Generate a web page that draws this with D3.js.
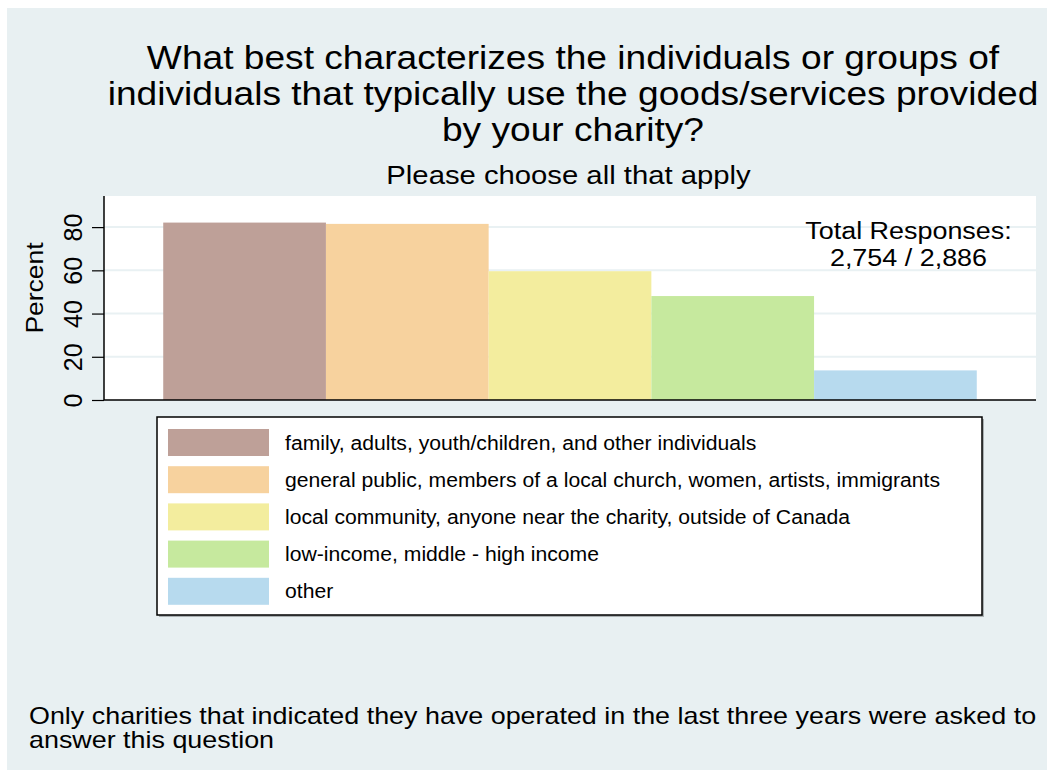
<!DOCTYPE html>
<html>
<head>
<meta charset="utf-8">
<script src="https://cdn.jsdelivr.net/npm/d3@7"></script>
<style>
  body { margin: 0; background: #fff; }
  svg text { font-family: "Liberation Sans", Arial, sans-serif; fill: #000; }
</style>
</head>
<body>
<svg id="mainsvg" width="1047" height="771"></svg>
<script>
// data
const categories = [
  'family, adults, youth/children, and other individuals',
  'general public, members of a local church, women, artists, immigrants',
  'local community, anyone near the charity, outside of Canada',
  'low-income, middle - high income',
  'other'
];
const percents = [82.1, 81.5, 59.6, 48.1, 13.7];
const colors = ['#bea098', '#f7d29e', '#f3ed9e', '#c6e99e', '#b7daee'];
const yTicks = [0, 20, 40, 60, 80];
const titleLines = [
  'What best characterizes the individuals or groups of',
  'individuals that typically use the goods/services provided',
  'by your charity?'
];
const subtitle = 'Please choose all that apply';
const totalLines = ['Total Responses:', '2,754 / 2,886'];
const noteLines = [
  'Only charities that indicated they have operated in the last three years were asked to',
  'answer this question'
];

const svg = d3.select('#mainsvg');
const plot = { left: 104, right: 1036, top: 196, bottom: 400 };

// the original font is a bit wider than Liberation Sans, stretch text to fit
const stretch = (sel, k) => sel.each(function () {
  const w = this.getComputedTextLength();
  d3.select(this)
    .attr('textLength', w * k)
    .attr('lengthAdjust', 'spacingAndGlyphs');
});

// background
svg.append('rect')
  .attr('x', 7).attr('y', 8)
  .attr('width', 1040).attr('height', 762)
  .attr('fill', '#e8f0f2');

svg.append('rect')
  .attr('x', plot.left).attr('y', plot.top)
  .attr('width', plot.right - plot.left).attr('height', plot.bottom - plot.top)
  .attr('fill', '#fff');

const xScale = d3.scaleBand()
  .domain(categories)
  .range([plot.left, plot.right])
  .paddingInner(0)
  .paddingOuter(0.364);

const yScale = d3.scaleLinear()
  .domain([0, 94.4])
  .range([plot.bottom, plot.top]);

// gridlines
svg.append('g').selectAll('line')
  .data(yTicks.filter(d => d > 0))
  .join('line')
  .attr('x1', plot.left).attr('x2', plot.right)
  .attr('y1', d => yScale(d)).attr('y2', d => yScale(d))
  .attr('stroke', '#e9f1f3')
  .attr('stroke-width', 2);

// bars
svg.append('g').selectAll('rect')
  .data(percents)
  .join('rect')
  .attr('x', (d, i) => xScale(categories[i]))
  .attr('y', d => yScale(d))
  .attr('width', xScale.bandwidth())
  .attr('height', d => yScale(0) - yScale(d))
  .attr('fill', (d, i) => colors[i]);

// y axis
const yAxis = d3.axisLeft(yScale)
  .tickValues(yTicks)
  .tickSize(12)
  .tickPadding(10);
const yg = svg.append('g')
  .attr('transform', `translate(${plot.left},0)`)
  .call(yAxis);
yg.select('.domain').attr('stroke', '#000').attr('stroke-width', 1.5)
  .attr('d', `M0,${plot.bottom}V${plot.top}`);
yg.selectAll('.tick line').attr('stroke', '#000').attr('stroke-width', 1.2);
yg.selectAll('.tick text')
  .attr('font-size', 25)
  .attr('font-family', '"Liberation Sans", Arial, sans-serif')
  .attr('x', null).attr('dy', null)
  .attr('text-anchor', 'middle')
  .attr('transform', 'translate(-22,0) rotate(-90)');

// x baseline
svg.append('line')
  .attr('x1', plot.left).attr('x2', plot.right)
  .attr('y1', plot.bottom).attr('y2', plot.bottom)
  .attr('stroke', '#000').attr('stroke-width', 1.5);

svg.append('text').text('Percent')
  .attr('transform', `translate(43, 288) rotate(-90)`)
  .attr('text-anchor', 'middle')
  .attr('font-size', 23)
  .call(stretch, 1.15);

// titles
svg.append('g').selectAll('text')
  .data(titleLines)
  .join('text')
  .text(d => d)
  .attr('x', 573)
  .attr('y', (d, i) => 69 + i * 36)
  .attr('text-anchor', 'middle')
  .attr('font-size', 33)
  .call(stretch, 1.125);

svg.append('text').text(subtitle)
  .attr('x', 568.5).attr('y', 184)
  .attr('text-anchor', 'middle')
  .attr('font-size', 25)
  .call(stretch, 1.17);

svg.append('g').selectAll('text')
  .data(totalLines)
  .join('text')
  .text(d => d)
  .attr('x', 908.5)
  .attr('y', (d, i) => 239 + i * 27)
  .attr('text-anchor', 'middle')
  .attr('font-size', 23)
  .call(stretch, 1.17);

// legend
const legend = { x: 157, y: 417, w: 825, h: 198 };
svg.append('rect')
  .attr('x', legend.x + 2).attr('y', legend.y + 2)
  .attr('width', legend.w).attr('height', legend.h)
  .attr('fill', '#aab0b2');
svg.append('rect')
  .attr('x', legend.x).attr('y', legend.y)
  .attr('width', legend.w).attr('height', legend.h)
  .attr('fill', '#fff').attr('stroke', '#000').attr('stroke-width', 1.5);

const rows = svg.append('g').selectAll('g')
  .data(categories)
  .join('g')
  .attr('transform', (d, i) => `translate(0, ${429 + i * 37.2})`);
rows.append('rect')
  .attr('x', 168).attr('y', 0)
  .attr('width', 101).attr('height', 27)
  .attr('fill', (d, i) => colors[i]);
rows.append('text')
  .text(d => d)
  .attr('x', 285).attr('y', 20.5)
  .attr('font-size', 20)
  .call(stretch, 1.058);

// note
svg.append('g').selectAll('text')
  .data(noteLines)
  .join('text')
  .text(d => d)
  .attr('x', 29)
  .attr('y', (d, i) => 724 + i * 24)
  .attr('font-size', 24)
  .call(stretch, 1.12);
</script>
</body>
</html>
